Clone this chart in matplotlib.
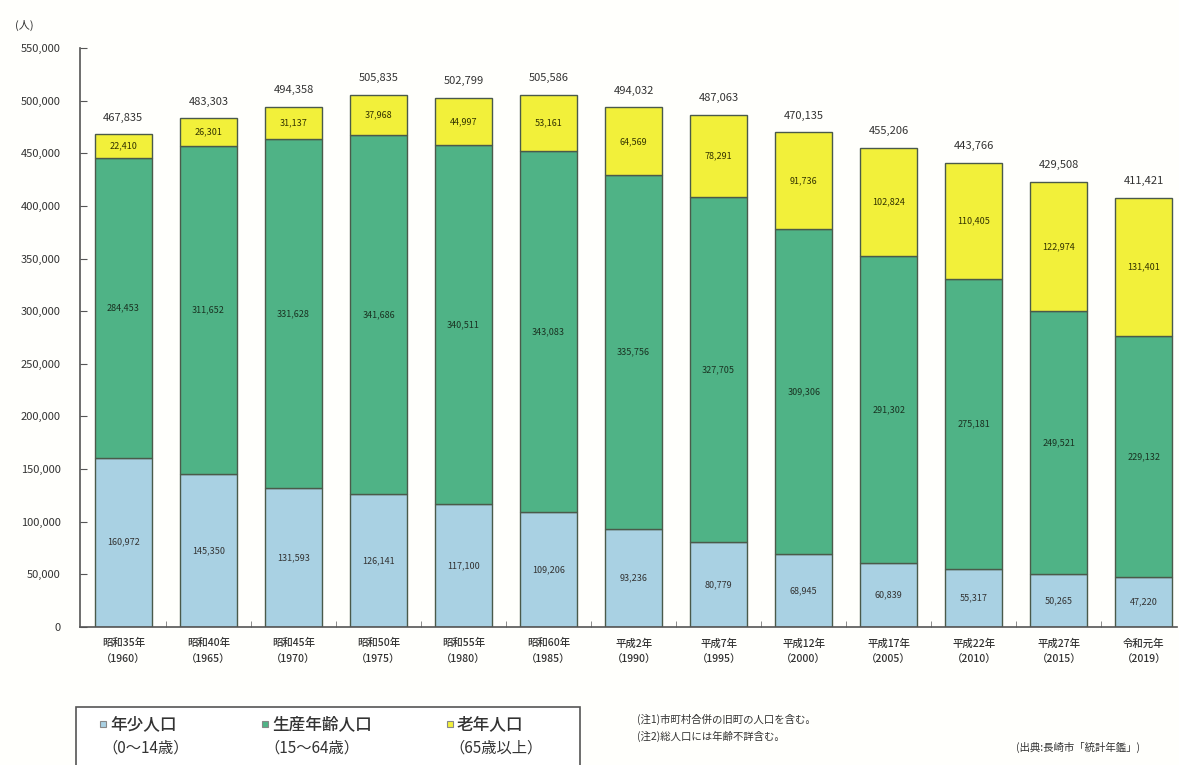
import matplotlib
matplotlib.use("Agg")
import matplotlib.pyplot as plt
from matplotlib.patches import Rectangle
from matplotlib.ticker import FuncFormatter, MultipleLocator, FixedLocator

plt.rcParams['font.family'] = ['Noto Sans CJK JP', 'DejaVu Sans']

categories = ["昭和35年\n（1960）", "昭和40年\n（1965）", "昭和45年\n（1970）", "昭和50年\n（1975）",
              "昭和55年\n（1980）", "昭和60年\n（1985）", "平成2年\n（1990）", "平成7年\n（1995）",
              "平成12年\n（2000）", "平成17年\n（2005）", "平成22年\n（2010）", "平成27年\n（2015）",
              "令和元年\n（2019）"]
young = [160972, 145350, 131593, 126141, 117100, 109206, 93236, 80779, 68945, 60839, 55317, 50265, 47220]
working = [284453, 311652, 331628, 341686, 340511, 343083, 335756, 327705, 309306, 291302, 275181, 249521, 229132]
old = [22410, 26301, 31137, 37968, 44997, 53161, 64569, 78291, 91736, 102824, 110405, 122974, 131401]
totals = [467835, 483303, 494358, 505835, 502799, 505586, 494032, 487063, 470135, 455206, 443766, 429508, 411421]

legend_labels = ["年少人口", "生産年齢人口", "老年人口"]
legend_sub = ["（0～14歳）", "（15～64歳）", "（65歳以上）"]
notes = ["(注1)市町村合併の旧町の人口を含む。", "(注2)総人口には年齢不詳含む。"]
source = "(出典:長崎市「統計年鑑」)"

c_young = "#a9d1e3"
c_work = "#4fb386"
c_old = "#f2f03a"
edge = "#4a5a4a"
bg = "#fffffc"

fig = plt.figure(figsize=(11.79, 7.65), dpi=100, facecolor=bg)
ax = fig.add_axes([80/1179, (765-627)/765, (1177-80)/1179, (627-48)/765], facecolor=bg)

x = list(range(len(categories)))
w = 0.67
ax.bar(x, young, w, color=c_young, edgecolor=edge, linewidth=1.0)
ax.bar(x, working, w, bottom=young, color=c_work, edgecolor=edge, linewidth=1.0)
bottom2 = [a + b for a, b in zip(young, working)]
ax.bar(x, old, w, bottom=bottom2, color=c_old, edgecolor=edge, linewidth=1.0)

for i in x:
    ax.text(i, young[i] / 2, f"{young[i]:,}", ha="center", va="center", fontsize=6.5, color="#333333")
    ax.text(i, young[i] + working[i] / 2, f"{working[i]:,}", ha="center", va="center", fontsize=6.5, color="#1a3322")
    ax.text(i, bottom2[i] + old[i] / 2, f"{old[i]:,}", ha="center", va="center", fontsize=6.5, color="#333300")
    ax.text(i, bottom2[i] + old[i] + 11000, f"{totals[i]:,}", ha="center", va="bottom", fontsize=8, color="#333333")

ax.set_xlim(-0.51, 12.39)
ax.set_ylim(0, 550000)
ax.yaxis.set_major_locator(MultipleLocator(50000))
ax.yaxis.set_major_formatter(FuncFormatter(lambda v, p: f"{int(v):,}"))
ax.tick_params(axis="y", direction="in", length=5, labelsize=8, colors="#555555", labelcolor="#333333", pad=14)
ax.set_xticks(x)
ax.set_xticklabels(categories, fontsize=7.5, color="#333333", linespacing=1.7, fontweight="medium")
ax.tick_params(axis="x", length=0, pad=8)
ax.xaxis.set_minor_locator(FixedLocator([i + 0.5 for i in x[:-1]]))
ax.tick_params(axis="x", which="minor", direction="in", length=4, color="#777777")

for s in ["top", "right"]:
    ax.spines[s].set_visible(False)
ax.spines["left"].set_color("#555555")
ax.spines["bottom"].set_color("#555555")
ax.spines["left"].set_linewidth(1.2)
ax.spines["bottom"].set_linewidth(1.2)

fig.text(15/1179, 1 - 25/765, "(人)", fontsize=8, color="#333333", va="center", ha="left")

# legend box
fig.patches.append(Rectangle((76/1179, -0.02), (580-76)/1179, (765-707)/765 + 0.02,
                             transform=fig.transFigure, facecolor="white", edgecolor="#555555",
                             linewidth=1.2))
leg_x = [100, 262, 447]
leg_cols = [c_young, c_work, c_old]
for lx, lab, sub, col in zip(leg_x, legend_labels, legend_sub, leg_cols):
    fig.patches.append(Rectangle(((lx) / 1179, 1 - 727/765), 6/1179, 6/765,
                                 transform=fig.transFigure, facecolor=col, edgecolor="#888888",
                                 linewidth=0.8))
    fig.text((lx + 10) / 1179, 1 - 724/765, lab, fontsize=12, color="#333333", va="center", ha="left",
             fontweight="medium")
    fig.text((lx + 2) / 1179, 1 - 748/765, sub, fontsize=11, color="#333333", va="center", ha="left")

fig.text(637/1179, 1 - 719/765, notes[0], fontsize=7.5, color="#333333", va="center", ha="left")
fig.text(637/1179, 1 - 736/765, notes[1], fontsize=7.5, color="#333333", va="center", ha="left")
fig.text(1140/1179, 1 - 747/765, source, fontsize=7.5, color="#333333", va="center", ha="right")

fig.savefig("out.png", dpi=100, facecolor=bg)
